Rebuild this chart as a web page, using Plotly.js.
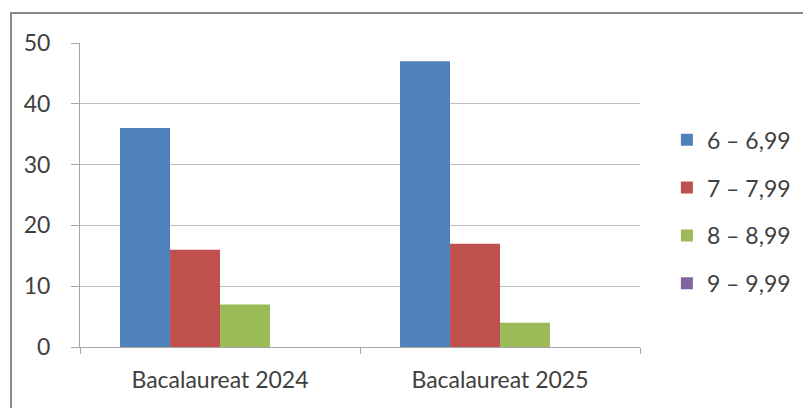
<!DOCTYPE html>
<html>
<head>
<meta charset="utf-8">
<script src="https://cdn.plot.ly/plotly-3.0.1.min.js"></script>
<style>
  html, body { margin: 0; padding: 0; background: #fff; }
  #wrap { position: relative; width: 803px; height: 408px; overflow: hidden; }
  #chart { width: 803px; height: 408px; }
  #frame { position: absolute; left: 10px; top: 12px; width: 820px; height: 420px;
           border: 2px solid #8a8a8a; box-sizing: border-box; pointer-events: none; }
</style>
</head>
<body>
<div id="wrap">
  <div id="chart"></div>
  <div id="frame"></div>
</div>
<script>
const categories = ["Bacalaureat 2024", "Bacalaureat 2025"];
const seriesNames = ["6 – 6,99", "7 – 7,99", "8 – 8,99", "9 – 9,99"];
const values_6 = [36, 47];
const values_7 = [16, 17];
const values_8 = [7, 4];
const values_9 = [0, 0];
const yTicks = [0, 10, 20, 30, 40, 50];

const colors = ["#4F81BD", "#C0504D", "#9BBB59", "#8064A2"];
const allValues = [values_6, values_7, values_8, values_9];

const traces = allValues.map((v, i) => ({
  type: "bar",
  name: seriesNames[i],
  x: categories,
  y: v,
  marker: { color: colors[i], line: { width: 0 } },
  legendgroup: "g" + i,
  hoverinfo: "skip"
}));

const font = { family: "Lato, 'Open Sans', sans-serif", size: 23, color: "#404040" };

const layout = {
  width: 803, height: 408,
  margin: { l: 80, r: 163, t: 43, b: 61, autoexpand: false },
  paper_bgcolor: "#ffffff",
  plot_bgcolor: "#ffffff",
  font: font,
  showlegend: true,
  barmode: "group",
  bargap: 0.286,
  bargroupgap: 0,
  xaxis: {
    type: "category",
    showgrid: false,
    showline: true, linecolor: "#a6a6a6", linewidth: 1,
    ticks: "outside", tickson: "boundaries", ticklen: 6, tickcolor: "#a6a6a6",
    tickfont: font,
    ticklabelstandoff: 12,
    fixedrange: true
  },
  yaxis: {
    range: [0, 50],
    tickvals: yTicks,
    showgrid: true, gridcolor: "#bfbfbf", gridwidth: 1,
    zeroline: false,
    showline: true, linecolor: "#a6a6a6", linewidth: 1,
    ticks: "outside", ticklen: 8, tickcolor: "#a6a6a6",
    tickfont: font,
    ticklabelstandoff: 16,
    fixedrange: true
  },
  legend: {
    x: 1.048, xanchor: "left",
    y: 0.445, yanchor: "middle",
    font: font,
    tracegroupgap: 15,
    itemwidth: 30,
    bgcolor: "rgba(0,0,0,0)"
  }
};

Plotly.newPlot("chart", traces, layout, { displayModeBar: false, staticPlot: true });
</script>
</body>
</html>
